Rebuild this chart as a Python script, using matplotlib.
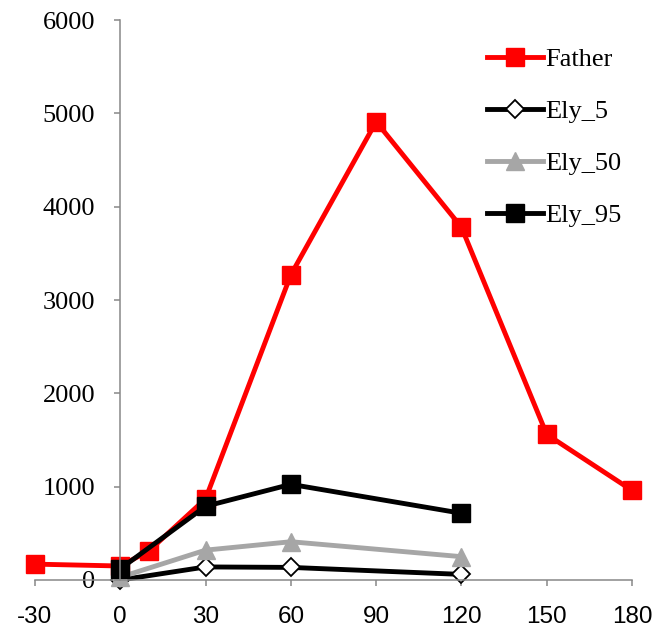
import matplotlib
matplotlib.use("Agg")
import matplotlib.pyplot as plt

plt.rcParams["axes.unicode_minus"] = False

# minutes
father_x = [-30, 0, 10, 30, 60, 90, 120, 150, 180]
father_y = [170, 150, 310, 870, 3270, 4910, 3780, 1560, 960]

ely_x = [0, 30, 60, 120]
ely5_y = [0, 140, 135, 60]
ely50_y = [30, 320, 410, 250]
ely95_y = [120, 790, 1025, 715]

xticks = [-30, 0, 30, 60, 90, 120, 150, 180]
yticks = [0, 1000, 2000, 3000, 4000, 5000, 6000]

fig = plt.figure(figsize=(6.62, 6.37), dpi=100)
ax = fig.add_axes([35 / 662, 57 / 637, 597 / 662, 560 / 637])

lw = 3.5
ax.plot(father_x, father_y, color="#FF0000", lw=lw, marker="s", ms=13,
        label="Father", clip_on=False)
ax.plot(ely_x, ely5_y, color="black", lw=lw, marker="D", ms=9,
        mfc="white", mec="black", mew=1.3, label="Ely_5", clip_on=False)
ax.plot(ely_x, ely50_y, color="#A6A6A6", lw=lw, marker="^", ms=13,
        label="Ely_50", clip_on=False)
ax.plot(ely_x, ely95_y, color="black", lw=lw, marker="s", ms=13,
        label="Ely_95", clip_on=False)

ax.set_xlim(-30, 180)
ax.set_ylim(0, 6000)
ax.set_xticks(xticks)
ax.set_yticks(yticks)

for s in ["top", "right"]:
    ax.spines[s].set_visible(False)
ax.spines["left"].set_position(("data", 0))
for s in ["left", "bottom"]:
    ax.spines[s].set_color("#878787")
    ax.spines[s].set_linewidth(1.1)

ax.tick_params(axis="both", direction="out", length=4, width=1.1, color="#878787")
ax.tick_params(axis="y", pad=14)
ax.tick_params(axis="x", pad=15)
for t in ax.get_yticklabels():
    t.set_fontfamily("Liberation Serif")
    t.set_fontsize(19)
for t in ax.get_xticklabels():
    t.set_fontfamily(["Liberation Sans Narrow", "Liberation Sans"])
    t.set_fontsize(17.5)

leg = ax.legend(loc="upper right", bbox_to_anchor=(1.0, 0.97), frameon=False,
                prop={"family": "Liberation Serif", "size": 19},
                handlelength=2.1, handletextpad=0.1, labelspacing=1.08,
                borderaxespad=0)

fig.savefig("out.png", dpi=100)
